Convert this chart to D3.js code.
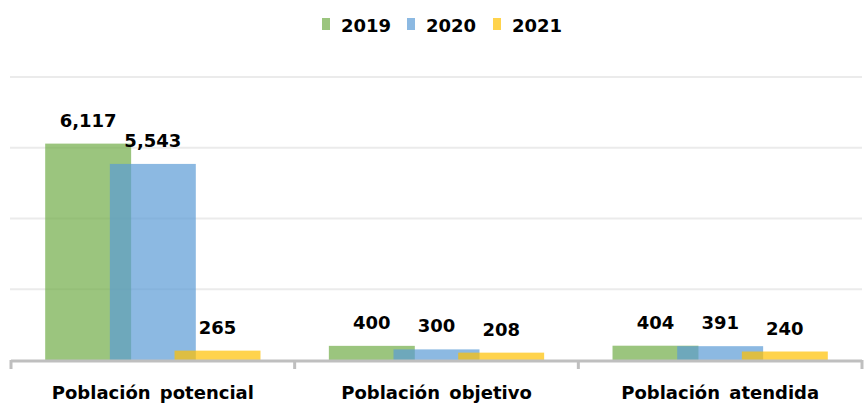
<!DOCTYPE html>
<html><head><meta charset="utf-8">
<script src="https://cdn.jsdelivr.net/npm/d3@7/dist/d3.min.js"></script>
<style>
html,body{margin:0;padding:0;background:#fff;}
svg{display:block;}
text{font-family:"DejaVu Sans",sans-serif;font-weight:bold;fill:#000;}
</style></head>
<body>
<svg id="chart" width="867" height="412"></svg>
<script>
const categories = ["Población potencial", "Población objetivo", "Población atendida"];
const seriesNames = ["2019", "2020", "2021"];
const values2019 = [6117, 400, 404];
const values2020 = [5543, 300, 391];
const values2021 = [265, 208, 240];
const seriesValues = [values2019, values2020, values2021];
const seriesColors = ["#70AD47", "#5B9BD5", "#FFC000"];
const gridTicks = [0, 2000, 4000, 6000, 8000];

(function () {
const svg = d3.select("#chart");
const plotLeft = 11, plotRight = 862, plotBase = 360, plotTop = 77;

const x = d3.scaleBand().domain(categories).range([plotLeft, plotRight]).padding(0);
const y = d3.scaleLinear().domain([0, 8000]).range([plotBase, plotTop]);
const bw = x.bandwidth();
const barW = bw * 0.303;
const step = bw * 0.228;
const sx = d3.scaleLinear().domain([0, 2]).range([-step, step]);

// gridlines
svg.append("g").selectAll("line").data(gridTicks.filter(t => t > 0)).join("line")
  .attr("x1", plotLeft - 1).attr("x2", plotRight)
  .attr("y1", d => y(d)).attr("y2", d => y(d))
  .attr("stroke", "#EBEBEB").attr("stroke-width", 2);

// bars
seriesValues.forEach((vals, si) => {
  svg.append("g").selectAll("rect").data(vals).join("rect")
    .attr("x", (d, i) => x(categories[i]) + bw / 2 + sx(si) - barW / 2)
    .attr("width", barW)
    .attr("y", d => y(d))
    .attr("height", d => plotBase - y(d))
    .attr("fill", seriesColors[si])
    .attr("fill-opacity", 0.7);
});

// value labels
seriesValues.forEach((vals, si) => {
  svg.append("g").selectAll("text").data(vals).join("text")
    .attr("x", (d, i) => x(categories[i]) + bw / 2 + sx(si))
    .attr("y", d => y(d) - 17)
    .attr("text-anchor", "middle")
    .attr("font-size", 18)
    .text(d => d3.format(",")(d));
});

// x axis
const xAxis = d3.axisBottom(x).tickSize(0).tickFormat("");
const ax = svg.append("g").attr("transform", `translate(0,${plotBase})`).call(xAxis);
ax.select(".domain").remove();
ax.append("line").attr("x1", plotLeft).attr("x2", plotRight).attr("y1", 1).attr("y2", 1)
  .attr("stroke", "#BFBFBF").attr("stroke-width", 3);
const bounds = categories.map(c => x(c)).concat([plotRight]);
ax.selectAll(".bnd").data(bounds).join("line").attr("class", "bnd")
  .attr("x1", d => d).attr("x2", d => d).attr("y1", 0).attr("y2", 9)
  .attr("stroke", "#BFBFBF").attr("stroke-width", 3);

svg.append("g").selectAll("text").data(categories).join("text")
  .attr("x", d => x(d) + bw / 2)
  .attr("y", 399)
  .attr("text-anchor", "middle")
  .attr("font-size", 18)
  .attr("word-spacing", 3)
  .text(d => d);

// legend
const legendX = [322, 407, 493];
const lg = svg.append("g");
seriesNames.forEach((n, i) => {
  lg.append("rect").attr("x", legendX[i]).attr("y", 18).attr("width", 8).attr("height", 12)
    .attr("fill", seriesColors[i]).attr("fill-opacity", 0.7);
  lg.append("text").attr("x", legendX[i] + 19).attr("y", 32)
    .attr("font-size", 18).text(n);
});
})();
</script>
</body></html>
